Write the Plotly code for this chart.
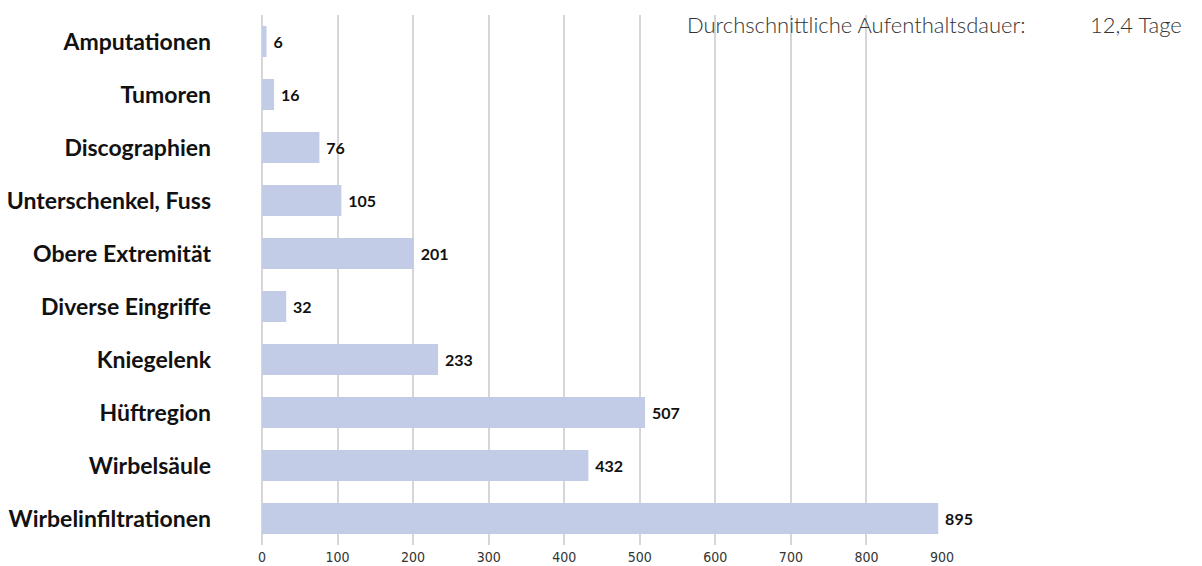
import plotly.graph_objects as go

categories = ["Amputationen", "Tumoren", "Discographien", "Unterschenkel, Fuss",
              "Obere Extremität", "Diverse Eingriffe", "Kniegelenk", "Hüftregion",
              "Wirbelsäule", "Wirbelinfiltrationen"]
values = [6, 16, 76, 105, 201, 32, 233, 507, 432, 895]
x_ticks = [0, 100, 200, 300, 400, 500, 600, 700, 800, 900]
note_label = "Durchschnittliche Aufenthaltsdauer:"
note_value = "12,4 Tage"

L, R, T, B = 262, 260, 15, 21
plot_w = 1202 - L - R
plot_h = 566 - T - B

fig = go.Figure(go.Bar(
    y=categories, x=values, orientation="h",
    marker=dict(color="#c3cce7", line=dict(width=0)),
    width=0.585,
    text=[" " + str(v) for v in values], textposition="outside",
    textfont=dict(family="Lato", size=16, color="#111111", weight="bold"),
    cliponaxis=False, hoverinfo="skip",
))

fig.update_layout(
    width=1202, height=566,
    margin=dict(l=L, r=R, t=T, b=B),
    paper_bgcolor="white", plot_bgcolor="white",
    showlegend=False,
    xaxis=dict(range=[0, 900], tickvals=x_ticks, showgrid=True,
               gridcolor="#d6d6d6", gridwidth=2, zeroline=True,
               zerolinecolor="#d6d6d6", zerolinewidth=2,
               tickfont=dict(family="DejaVu Sans Condensed", size=14, color="#333333"),
               ticks="", ticklabelstandoff=2, fixedrange=True, automargin=False),
    yaxis=dict(categoryorder="array", categoryarray=categories, autorange="reversed",
               tickfont=dict(family="Lato", size=23, color="#111111", weight="bold"),
               ticks="", ticklabelstandoff=50, showgrid=False, fixedrange=True,
               automargin=False),
    annotations=[
        dict(text=note_label, xref="paper", yref="paper", x=(1028 - L) / plot_w,
             y=1 - (24 - T) / plot_h,
             xanchor="right", yanchor="middle", showarrow=False,
             font=dict(family="Lato", size=22, color="#333333", weight=300)),
        dict(text=note_value, xref="paper", yref="paper", x=(1184 - L) / plot_w,
             y=1 - (24 - T) / plot_h,
             xanchor="right", yanchor="middle", showarrow=False,
             font=dict(family="Lato", size=22, color="#333333", weight=300)),
    ],
)

fig.write_html("out.html", config={"displayModeBar": False, "staticPlot": True},
               post_script="document.body.style.margin='0';")
